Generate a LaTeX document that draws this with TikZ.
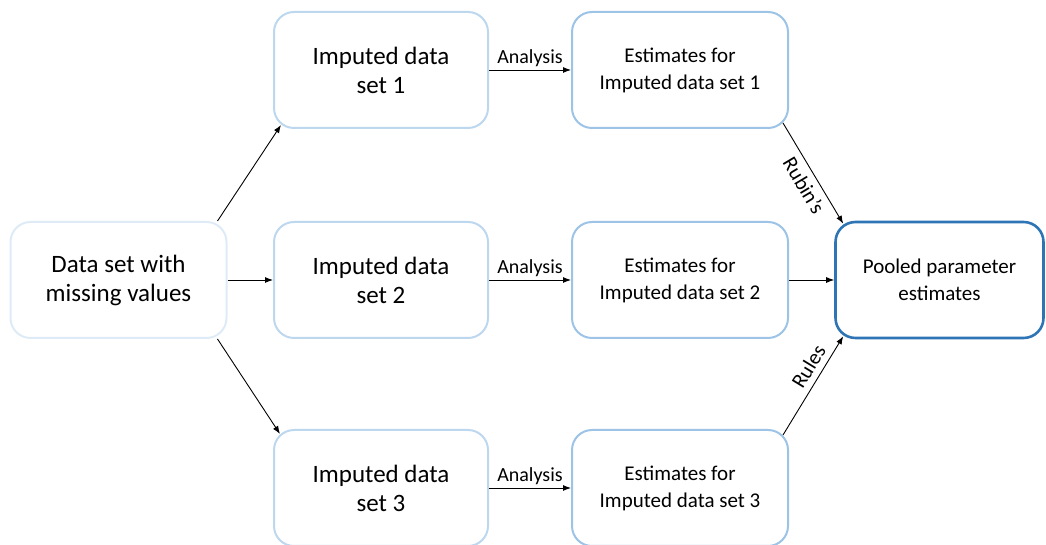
\documentclass[tikz,border=0pt]{standalone}
\usepackage{fontspec}
\setmainfont{Carlito}
\usetikzlibrary{arrows.meta,calc}
\definecolor{bxlight}{HTML}{DEEBF7}
\definecolor{bxmid}{HTML}{BDD7EE}
\definecolor{bxest}{HTML}{9DC3E6}
\definecolor{bxdark}{HTML}{2E75B6}
\tikzset{
  box/.style={draw, rounded corners=20pt, line width=2pt, align=center, inner sep=0pt,
    minimum height=116pt, text=black},
  bigtxt/.style={font=\fontsize{25}{29}\selectfont},
  smalltxt/.style={font=\fontsize{21}{27}\selectfont},
  conn/.style={draw=black, line width=0.9pt, -{Latex[length=8pt,width=6pt]}},
  lbl/.style={font=\fontsize{20}{24}\selectfont, text=black, inner sep=3pt},
  slbl/.style={font=\fontsize{21}{24}\selectfont, text=black, inner sep=6pt}
}
\begin{document}
\begin{tikzpicture}[x=1pt,y=1pt]
\useasboundingbox (0,0) rectangle (1046,545);
\node[box, bigtxt, draw=bxlight, minimum width=216pt] (src) at (118.5,265) {Data set with\\missing values};
\node[box, bigtxt, draw=bxmid, minimum width=214pt] (imp1) at (381,475) {Imputed data\\set 1};
\node[box, bigtxt, draw=bxmid, minimum width=214pt] (imp2) at (381,265) {Imputed data\\set 2};
\node[box, bigtxt, draw=bxmid, minimum width=214pt] (imp3) at (381,57) {Imputed data\\set 3};
\node[box, smalltxt, draw=bxest, minimum width=216pt] (est1) at (680,475) {Estimates for\\Imputed data set 1};
\node[box, smalltxt, draw=bxest, minimum width=216pt] (est2) at (680,265) {Estimates for\\Imputed data set 2};
\node[box, smalltxt, draw=bxest, minimum width=216pt] (est3) at (680,57) {Estimates for\\Imputed data set 3};
\node[box, smalltxt, draw=bxdark, line width=2.6pt, minimum width=208pt, minimum height=116pt] (pool) at (939.5,265) {Pooled parameter\\estimates};

\coordinate (s1) at ($(src.north east)+(-10,0)$);
\coordinate (s3) at ($(src.south east)+(-10,0)$);
\coordinate (i1) at ($(imp1.south west)+(8,4)$);
\coordinate (i3) at ($(imp3.north west)+(7,-5)$);
\coordinate (e1) at ($(est1.south east)+(-6,6)$);
\coordinate (e3) at ($(est3.north east)+(-6,-6)$);
\coordinate (p1) at ($(pool.north west)+(9,-3)$);
\coordinate (p3) at ($(pool.south west)+(9,3)$);

\draw[conn] (s1) -- (i1);
\draw[conn] (src.east) -- (imp2.west);
\draw[conn] (s3) -- (i3);
\draw[conn] (imp1.east) -- node[lbl, above] (a1) {Analysis} (est1.west);
\draw[conn] (imp2.east) -- node[lbl, above] (a2) {Analysis} (est2.west);
\draw[conn] (imp3.east) -- node[lbl, above] (a3) {Analysis} (est3.west);
\draw[conn] (e1) -- node[slbl, sloped, below, pos=0.55] (r1) {Rubin’s} (p1);
\draw[conn] (est2.east) -- (pool.west);
\draw[conn] (e3) -- node[slbl, sloped, above, pos=0.62] (r2) {Rules} (p3);
\end{tikzpicture}
\end{document}
